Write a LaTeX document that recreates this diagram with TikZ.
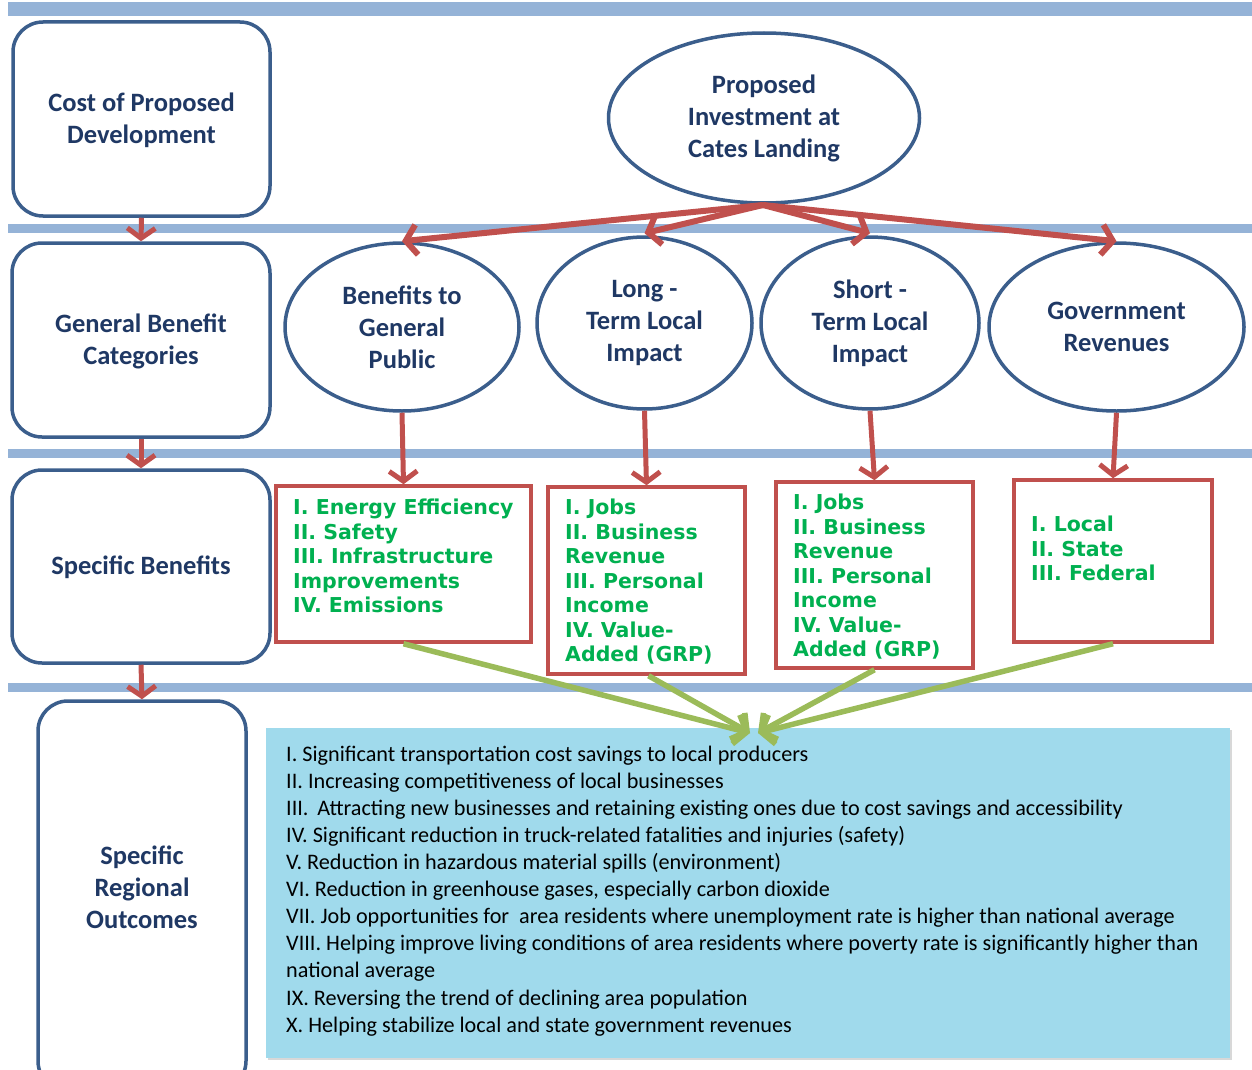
\documentclass[tikz,border=0pt]{standalone}
\usepackage{fontspec}
\setmainfont{Carlito}
\newfontfamily\verd{DejaVu Sans}
\usetikzlibrary{arrows.meta,shapes.geometric,shadows}
\definecolor{barblue}{RGB}{149,179,215}
\definecolor{navy}{RGB}{59,94,140}
\definecolor{txtblue}{RGB}{31,56,100}
\definecolor{redc}{RGB}{192,80,77}
\definecolor{greent}{RGB}{0,176,80}
\definecolor{olive}{RGB}{155,187,89}
\definecolor{cyanbox}{RGB}{160,218,236}
\tikzset{
  bar/.style={fill=barblue,draw=none},
  leftbox/.style={draw=navy,line width=3.5pt,rounded corners=30pt,fill=white},
  lefttxt/.style={font=\bfseries\fontsize{26.5}{32}\selectfont,text=txtblue,align=center},
  ell/.style={ellipse,draw=navy,line width=3.5pt,fill=white,inner sep=0pt,
     font=\bfseries\fontsize{26.5}{32}\selectfont,text=txtblue,align=center},
  redbox/.style={draw=redc,line width=3.5pt,fill=white},
  greentxt/.style={font=\verd\bfseries\fontsize{20.5}{24.5}\selectfont,text=greent,align=left,inner sep=0pt,anchor=north west},
  redarr/.style={draw=redc,line width=6pt,-{Straight Barb[length=11pt,width=30pt,line width=6pt]}},
  downarr/.style={draw=redc,line width=5pt,-{Straight Barb[length=10pt,width=28pt,line width=5pt]}},
  grarr/.style={draw=olive,line width=5.5pt,-{Straight Barb[length=11pt,width=30pt,line width=5.5pt]}},
}
\begin{document}
\begin{tikzpicture}[x=1pt,y=-1pt]
\useasboundingbox (0,0) rectangle (1252,1070);
% horizontal bars
\fill[bar] (8,2) rectangle (1252,16);
\fill[bar] (8,224) rectangle (1252,233);
\fill[bar] (8,449) rectangle (1252,458);
\fill[bar] (8,683) rectangle (1252,692);

% left boxes
\node[leftbox,minimum width=257pt,minimum height=194pt] (c1) at (141.5,119) {};
\node[leftbox,minimum width=258pt,minimum height=194pt] (c2) at (141,340) {};
\node[leftbox,minimum width=258pt,minimum height=193pt] (c3) at (141,566.5) {};
\node[leftbox,minimum width=208pt,minimum height=390pt] (c4) at (142,896) {};
\node[lefttxt] (c1t) at (141.5,120) {Cost of Proposed\\Development};
\node[lefttxt] (c2t) at (141,341) {General Benefit\\Categories};
\node[lefttxt] (c3t) at (141,567) {Specific Benefits};
\node[lefttxt] (c4t) at (142,887) {Specific\\Regional\\Outcomes};

\draw[downarr] (c1.south) -- (c2.north);
\draw[downarr] (c2.south) -- (c3.north);
\draw[downarr] (c3.south) -- (c4.north);

% ellipses
\node[ell,minimum width=311pt,minimum height=170pt] (top) at (764,118) {Proposed\\Investment at\\Cates Landing};
\node[ell,minimum width=234pt,minimum height=168pt] (e1) at (402,327) {Benefits to\\General\\Public};
\node[ell,minimum width=215pt,minimum height=172pt] (e2) at (644.5,323) {Long -\\Term Local\\Impact};
\node[ell,minimum width=218pt,minimum height=172pt] (e3) at (870,323) {Short -\\Term Local\\Impact};
\node[ell,minimum width=255pt,minimum height=168pt] (e4) at (1116.5,327) {Government\\Revenues};

\coordinate (src) at (763,205);
\draw[redarr] (src) -- (e1.north);
\draw[redarr] (src) -- ([yshift=2pt]e2.north);
\draw[redarr] (src) -- ([yshift=2pt]e3.north);
\draw[redarr] (src) -- (e4.north);

% red boxes
\node[redbox,minimum width=255pt,minimum height=156pt] (b1) at (403.5,564) {};
\node[redbox,minimum width=197pt,minimum height=187pt] (b2) at (646.5,580.5) {};
\node[redbox,minimum width=197pt,minimum height=186pt] (b3) at (874.5,575) {};
\node[redbox,minimum width=198pt,minimum height=162pt] (b4) at (1113,561) {};

\node[greentxt] (t1) at (293,499) {I. Energy Efficiency\\II. Safety\\III. Infrastructure\\Improvements\\IV. Emissions};
\node[greentxt] (t2) at (565,499) {I. Jobs\\II. Business\\Revenue\\III. Personal\\Income\\IV. Value-\\Added (GRP)};
\node[greentxt] (t3) at (793,494) {I. Jobs\\II. Business\\Revenue\\III. Personal\\Income\\IV. Value-\\Added (GRP)};
\node[greentxt] (t4) at (1031,516) {I. Local\\II. State\\III. Federal};

\draw[downarr] (e1.south) -- (b1.north);
\draw[downarr] (e2.south) -- (b2.north);
\draw[downarr] (e3.south) -- (b3.north);
\draw[downarr] (e4.south) -- (b4.north);

% outcomes box
\node[draw=none,fill=cyanbox,minimum width=964pt,minimum height=330pt,
      drop shadow={shadow xshift=2pt,shadow yshift=-2pt,fill=gray!60}] (ob) at (748,893) {};
\node[anchor=north west,inner sep=0pt,align=left,font=\fontsize{22.2}{27.1}\selectfont] (ot) at (286,745.5) {%
I. Significant transportation cost savings to local producers\\
II. Increasing competitiveness of local businesses\\
III. \,Attracting new businesses and retaining existing ones due to cost savings and accessibility\\
IV. Significant reduction in truck-related fatalities and injuries (safety)\\
V. Reduction in hazardous material spills (environment)\\
VI. Reduction in greenhouse gases, especially carbon dioxide\\
VII. Job opportunities for \ area residents where unemployment rate is higher than national average\\
VIII. Helping improve living conditions of area residents where poverty rate is significantly higher than\\
national average\\
IX. Reversing the trend of declining area population\\
X. Helping stabilize local and state government revenues};

\coordinate (gl) at (750,733);
\coordinate (gr) at (758,733);
\draw[grarr] (b1.south) -- (gl);
\draw[grarr] ([xshift=2pt]b2.south) -- (gl);
\draw[grarr] (b3.south) -- (gr);
\draw[grarr] (b4.south) -- (gr);
\end{tikzpicture}
\end{document}
